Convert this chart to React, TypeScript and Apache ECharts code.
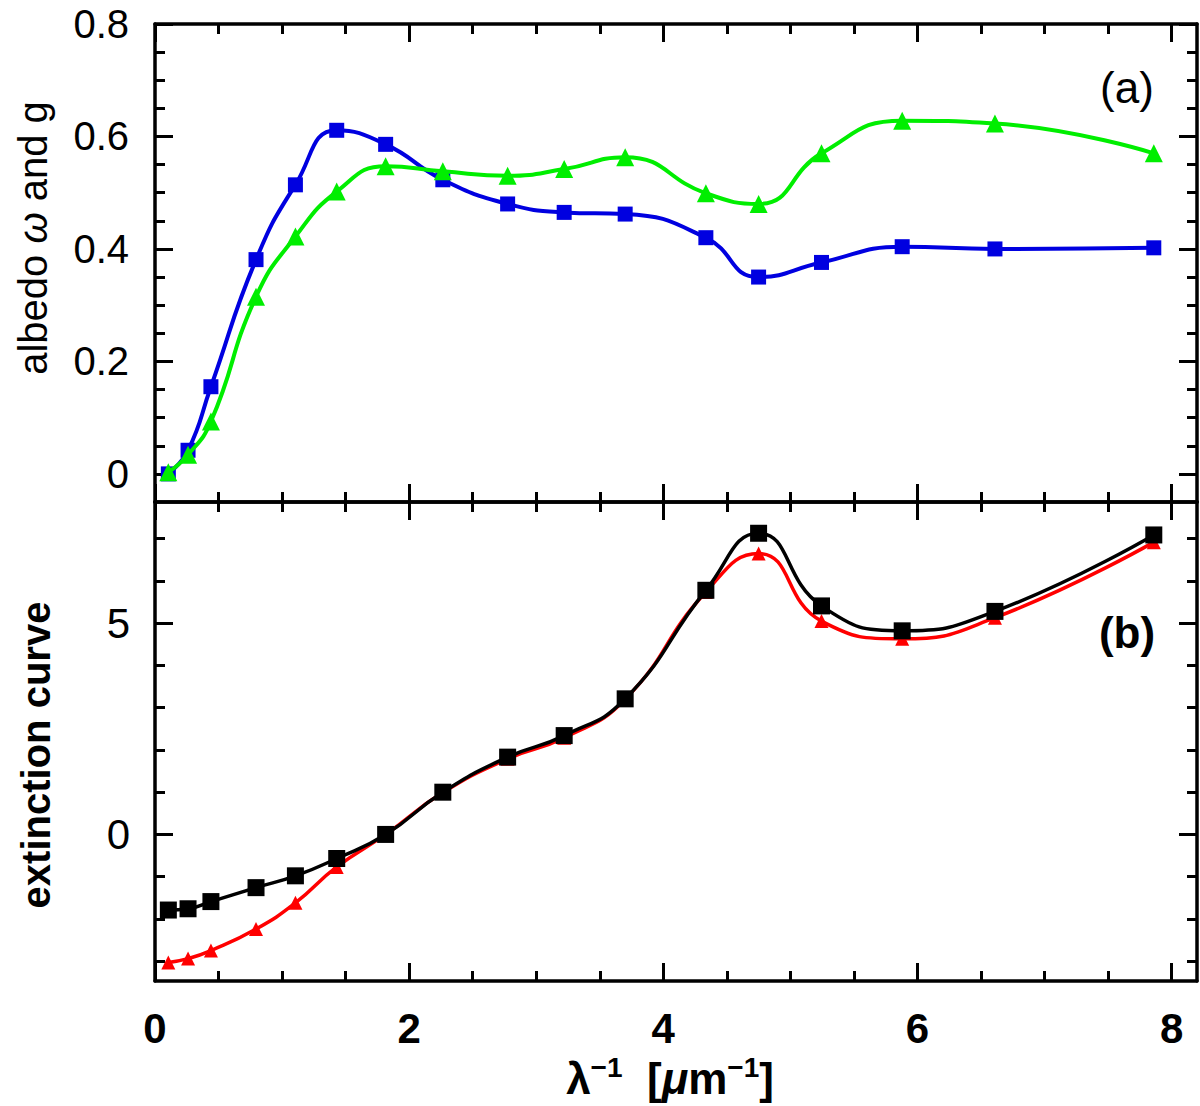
import React, { useEffect, useRef } from 'react';
import * as echarts from 'echarts';

// inverse wavelength of each band [um^-1]
const waveNumbers = [0.105, 0.26, 0.44, 0.795, 1.105, 1.43, 1.815, 2.265, 2.775, 3.22, 3.7, 4.335, 4.75, 5.245, 5.88, 6.61, 7.86];

// panel (a)
const albedo = [0.0, 0.042, 0.155, 0.381, 0.514, 0.611, 0.586, 0.523, 0.48, 0.465, 0.462, 0.42, 0.35, 0.376, 0.404, 0.4, 0.402];
const asymmetry = [0.003, 0.034, 0.093, 0.315, 0.422, 0.502, 0.547, 0.538, 0.53, 0.542, 0.563, 0.499, 0.48, 0.57, 0.628, 0.623, 0.57];

// panel (b)
const extinctionBlack = [-1.79, -1.76, -1.59, -1.26, -0.98, -0.57, 0.0, 1.0, 1.83, 2.34, 3.21, 5.78, 7.13, 5.41, 4.82, 5.28, 7.09];
const extinctionRed = [-3.03, -2.94, -2.75, -2.24, -1.62, -0.77, 0.0, 0.99, 1.79, 2.29, 3.2, 5.74, 6.65, 5.05, 4.63, 5.13, 6.92];

// ticks
const xMajor = [0, 2, 4, 6, 8];
const xMinor = [0.5, 1, 1.5, 2.5, 3, 3.5, 4.5, 5, 5.5, 6.5, 7, 7.5];
const yTopMajor = [0, 0.2, 0.4, 0.6, 0.8];
const yTopMinor = [0.05, 0.1, 0.15, 0.25, 0.3, 0.35, 0.45, 0.5, 0.55, 0.65, 0.7, 0.75];
const yBotMajor = [0, 5];
const yBotMinor = [-3, -2, -1, 1, 2, 3, 4, 6, 7];

const X_MIN = 0;
const X_MAX = 8.2;
const TOP_MIN = -0.05;
const TOP_MAX = 0.8;
const BOT_MIN = -3.47;
const BOT_MAX = 7.87;

const FONT = '"Liberation Sans", Arial, sans-serif';
const LINE_W = 3.5;

const pairs = (ys: number[]) => waveNumbers.map((x, i) => [x, ys[i]]);

const makeAxis = (
  gridIndex: number,
  position: string,
  min: number,
  max: number,
  ticks: number[],
  tickLen: number,
  showLine: boolean,
  label?: any,
) => ({
  type: 'value',
  gridIndex,
  position,
  min,
  max,
  axisLine: { show: showLine, onZero: false, lineStyle: { color: '#000', width: LINE_W } },
  axisTick: {
    show: true,
    inside: true,
    length: tickLen,
    customValues: ticks,
    lineStyle: { color: '#000', width: 3 },
  },
  axisLabel: label ? label : { show: false },
  splitLine: { show: false },
  minorTick: { show: false },
});

const App: React.FC = () => {
  const chartRef = useRef<HTMLDivElement>(null);

  useEffect(() => {
    if (!chartRef.current) return;
    const chart = echarts.init(chartRef.current, null, { renderer: 'svg' });

    const xLabel = {
      show: true,
      customValues: xMajor,
      margin: 26,
      fontSize: 42,
      fontWeight: 'bold',
      fontFamily: FONT,
      color: '#000',
      formatter: (v: number) => String(v),
    };
    const topYLabel = {
      show: true,
      customValues: yTopMajor,
      margin: 26,
      fontSize: 40,
      fontFamily: FONT,
      color: '#000',
      formatter: (v: number) => (v === 0 ? '0' : v.toFixed(1)),
    };
    const botYLabel = {
      show: true,
      customValues: yBotMajor,
      margin: 25,
      fontSize: 42,
      fontFamily: FONT,
      color: '#000',
      formatter: (v: number) => String(v),
    };

    const option: any = {
      animation: false,
      backgroundColor: '#fff',
      grid: [
        { left: 155, top: 24, width: 1042, height: 478 },
        { left: 155, top: 502, width: 1042, height: 479 },
      ],
      xAxis: [
        makeAxis(0, 'bottom', X_MIN, X_MAX, xMajor, 18, true),
        makeAxis(0, 'bottom', X_MIN, X_MAX, xMinor, 10, false),
        makeAxis(0, 'top', X_MIN, X_MAX, xMajor, 18, true),
        makeAxis(0, 'top', X_MIN, X_MAX, xMinor, 10, false),
        makeAxis(1, 'bottom', X_MIN, X_MAX, xMajor, 18, true, xLabel),
        makeAxis(1, 'bottom', X_MIN, X_MAX, xMinor, 10, false),
        makeAxis(1, 'top', X_MIN, X_MAX, xMajor, 18, true),
        makeAxis(1, 'top', X_MIN, X_MAX, xMinor, 10, false),
      ],
      yAxis: [
        makeAxis(0, 'left', TOP_MIN, TOP_MAX, yTopMajor, 18, true, topYLabel),
        makeAxis(0, 'left', TOP_MIN, TOP_MAX, yTopMinor, 10, false),
        makeAxis(0, 'right', TOP_MIN, TOP_MAX, yTopMajor, 18, true),
        makeAxis(0, 'right', TOP_MIN, TOP_MAX, yTopMinor, 10, false),
        makeAxis(1, 'left', BOT_MIN, BOT_MAX, yBotMajor, 18, true, botYLabel),
        makeAxis(1, 'left', BOT_MIN, BOT_MAX, yBotMinor, 10, false),
        makeAxis(1, 'right', BOT_MIN, BOT_MAX, yBotMajor, 18, true),
        makeAxis(1, 'right', BOT_MIN, BOT_MAX, yBotMinor, 10, false),
      ],
      graphic: [
        {
          type: 'text',
          x: 33,
          y: 238,
          rotation: Math.PI / 2,
          style: {
            text: '{n|albedo }{i|ω}{n| and g}',
            align: 'center',
            verticalAlign: 'middle',
            fill: '#000',
            rich: {
              n: { fontSize: 40, fontFamily: FONT, fill: '#000' },
              i: { fontSize: 40, fontFamily: FONT, fontStyle: 'italic', fill: '#000' },
            },
          },
        },
        {
          type: 'text',
          x: 36,
          y: 755,
          rotation: Math.PI / 2,
          style: {
            text: 'extinction curve',
            fontSize: 40,
            fontWeight: 'bold',
            fontFamily: FONT,
            fill: '#000',
            align: 'center',
            verticalAlign: 'middle',
          },
        },
        {
          type: 'text',
          x: 1127,
          y: 87,
          style: {
            text: '(a)',
            fontSize: 44,
            fontFamily: FONT,
            fill: '#000',
            align: 'center',
            verticalAlign: 'middle',
          },
        },
        {
          type: 'text',
          x: 1127,
          y: 632,
          style: {
            text: '(b)',
            fontSize: 44,
            fontWeight: 'bold',
            fontFamily: FONT,
            fill: '#000',
            align: 'center',
            verticalAlign: 'middle',
          },
        },
        {
          type: 'text',
          x: 670,
          y: 1078,
          style: {
            text: '{m|λ}{s|−1}{m|  [}{i|μ}{m|m}{s|−1}{m|]}',
            align: 'center',
            verticalAlign: 'middle',
            fill: '#000',
            rich: {
              m: { fontSize: 44, lineHeight: 50, fontWeight: 'bold', fontFamily: FONT, fill: '#000' },
              i: { fontSize: 44, lineHeight: 50, fontWeight: 'bold', fontStyle: 'italic', fontFamily: FONT, fill: '#000' },
              s: { fontSize: 28, lineHeight: 24, verticalAlign: 'top', fontWeight: 'bold', fontFamily: FONT, fill: '#000' },
            },
          },
        },
      ],
      series: [
        {
          name: 'albedo',
          type: 'line',
          xAxisIndex: 0,
          yAxisIndex: 0,
          data: pairs(albedo),
          smooth: true,
          symbol: 'rect',
          symbolSize: 15,
          itemStyle: { color: '#0000e0' },
          lineStyle: { color: '#0000e0', width: 4 },
          z: 2,
        },
        {
          name: 'g',
          type: 'line',
          xAxisIndex: 0,
          yAxisIndex: 0,
          data: pairs(asymmetry),
          smooth: true,
          symbol: 'triangle',
          symbolSize: 18,
          itemStyle: { color: '#00ee00' },
          lineStyle: { color: '#00ee00', width: 4 },
          z: 3,
        },
        {
          name: 'extinction red',
          type: 'line',
          xAxisIndex: 4,
          yAxisIndex: 4,
          data: pairs(extinctionRed),
          smooth: true,
          symbol: 'triangle',
          symbolSize: 14,
          itemStyle: { color: '#ff0000' },
          lineStyle: { color: '#ff0000', width: 3.5 },
          z: 2,
        },
        {
          name: 'extinction black',
          type: 'line',
          xAxisIndex: 4,
          yAxisIndex: 4,
          data: pairs(extinctionBlack),
          smooth: true,
          symbol: 'rect',
          symbolSize: 17,
          itemStyle: { color: '#000' },
          lineStyle: { color: '#000', width: 3.5 },
          z: 3,
        },
      ],
    };

    chart.setOption(option);

    return () => {
      chart.dispose();
    };
  }, []);

  return (
    <div
      ref={chartRef}
      style={{ position: 'absolute', left: 0, top: 0, width: 1200, height: 1106, background: '#fff' }}
    />
  );
};

export default App;
